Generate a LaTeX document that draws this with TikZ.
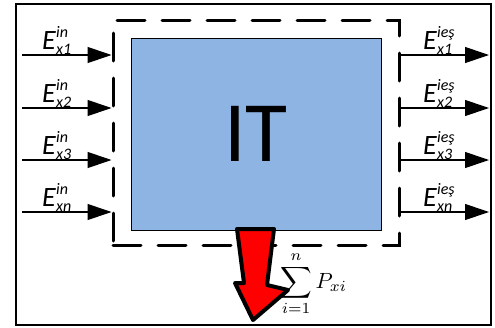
\documentclass[tikz,border=0pt]{standalone}
\usepackage{graphicx}
\usepackage{fontspec}
\setmainfont{Carlito}
\usetikzlibrary{arrows.meta, positioning, calc}
\definecolor{itblue}{RGB}{142, 180, 227}
\definecolor{itred}{RGB}{255, 0, 0}
\newcommand{\enlab}[2]{\textit{E}\rlap{\raisebox{12pt}{\fontsize{16}{18}\selectfont\itshape #1}}%
    \raisebox{-5pt}{\fontsize{16}{18}\selectfont\itshape #2}}

\begin{document}
\begin{tikzpicture}[x=1pt, y=-1pt,
                sysbox/.style={draw, line width=3pt, dash pattern=on 28pt off 17pt,
                    line cap=round, minimum width=286pt, minimum height=225pt},
                itbox/.style={draw, line width=1pt, fill=itblue, inner sep=0pt,
                    minimum width=250pt, minimum height=192pt,
                    font=\fontsize{86}{90}\selectfont},
                flow/.style={-{Triangle[length=24pt, width=16pt]}, line width=1.1pt},
                lbl/.style={anchor=base west, inner sep=0pt,
                    font=\fontsize{28}{30}\selectfont}
            ]
                \useasboundingbox (0,0) rectangle (495,327);
                \draw[line width=2.5pt] (16,4) rectangle (491,325);
                \node[sysbox] (sys) at (256,132.5) {};
                \node[itbox]  (it)  at (256,134)   {IT};
                \foreach \y/\k in {55/1, 108/2, 160/3, 212/n} {
                    \coordinate (in\k)  at (22,\y);
                    \coordinate (out\k) at (489,\y);
                    \draw[flow] (in\k) -- (in\k -| sys.west);
                    \draw[flow] (out\k -| sys.east) -- (out\k);
                    \node[lbl] (lin\k)  at (42,\y-6)  {\enlab{in}{x\k}};
                    \node[lbl] (lout\k) at (423,\y-6) {\enlab{ieş}{x\k}};
                }
                \draw[line width=4pt, line join=round, fill=itred]
                    (237,229) -- (274,229) -- (267,285) -- (288,290) -- (253,320)
                    -- (235,283) -- (244,283) -- cycle;
                \node[anchor=base west, inner sep=0pt]
                    (sum) at (280,288) {\scalebox{2.2}{$\displaystyle\sum_{i=1}^{n} P_{xi}$}};
            \end{tikzpicture}
\end{document}
